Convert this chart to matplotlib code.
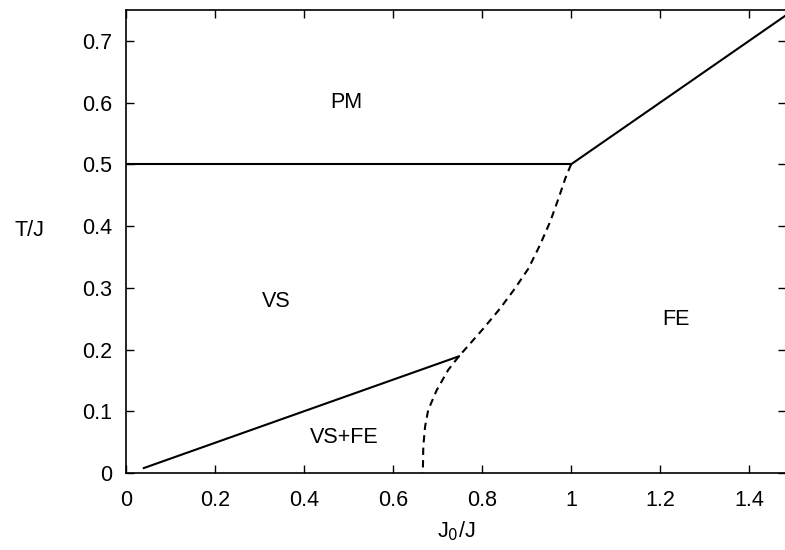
import matplotlib
matplotlib.use("Agg")
import matplotlib.pyplot as plt

plt.rcParams["font.family"] = ["Liberation Sans", "DejaVu Sans"]

# phase boundaries (J0/J, T/J)
PM_VS_X = [0.0, 1.0]
PM_VS_T = [0.5, 0.5]

PM_FE_X = [1.0, 1.5]
PM_FE_T = [0.5, 0.75]

VS_MIX_X = [0.040, 0.748]
VS_MIX_T = [0.008, 0.189]

# dashed boundary between FE and the VS / mixed phases
FE_X = [1.0, 0.987, 0.972, 0.953, 0.930, 0.904, 0.874, 0.840, 0.803,
        0.770, 0.748, 0.724, 0.698, 0.679, 0.672, 0.668, 0.667]
FE_T = [0.5, 0.477, 0.445, 0.407, 0.369, 0.331, 0.299, 0.266, 0.234,
        0.207, 0.189, 0.167, 0.134, 0.102, 0.075, 0.043, 0.0]

PHASES = ["PM", "VS", "VS+FE", "FE"]
PHASE_X = [0.495, 0.337, 0.49, 1.236]
PHASE_T = [0.60, 0.277, 0.058, 0.248]

XTICKS = [0, 0.2, 0.4, 0.6, 0.8, 1.0, 1.2, 1.4]
XTICKLABELS = ["0", "0.2", "0.4", "0.6", "0.8", "1", "1.2", "1.4"]
YTICKS = [0, 0.1, 0.2, 0.3, 0.4, 0.5, 0.6, 0.7]
YTICKLABELS = ["0", "0.1", "0.2", "0.3", "0.4", "0.5", "0.6", "0.7"]

fs = 15.5

fig = plt.figure(figsize=(7.85, 5.5), dpi=100)
ax = fig.add_axes([126 / 785, 77 / 550, 660 / 785, 463 / 550])

lw = 1.5
ax.plot(PM_VS_X, PM_VS_T, color="black", lw=lw)
ax.plot(PM_FE_X, PM_FE_T, color="black", lw=lw)
ax.plot(VS_MIX_X, VS_MIX_T, color="black", lw=lw)
ax.plot(FE_X, FE_T, color="black", lw=lw, linestyle=(0, (3.5, 2.5)))

for name, x, t in zip(PHASES, PHASE_X, PHASE_T):
    ax.text(x, t, name, ha="center", va="center", fontsize=fs)

ax.set_xlim(0, 1.483)
ax.set_ylim(0, 0.75)
ax.set_xticks(XTICKS)
ax.set_xticklabels(XTICKLABELS)
ax.set_yticks(YTICKS)
ax.set_yticklabels(YTICKLABELS)
ax.tick_params(direction="in", length=6, width=1, top=True, right=True,
               labelsize=fs)
ax.tick_params(axis="x", pad=12)
ax.tick_params(axis="y", pad=10)
for s in ax.spines.values():
    s.set_linewidth(1.2)

ax.set_xlabel("J$_0$/J", fontsize=fs, labelpad=6)
ax.set_ylabel("T/J", fontsize=fs, rotation=0)
ax.yaxis.set_label_coords(-0.146, 0.50)

fig.savefig("out.png", dpi=100)
